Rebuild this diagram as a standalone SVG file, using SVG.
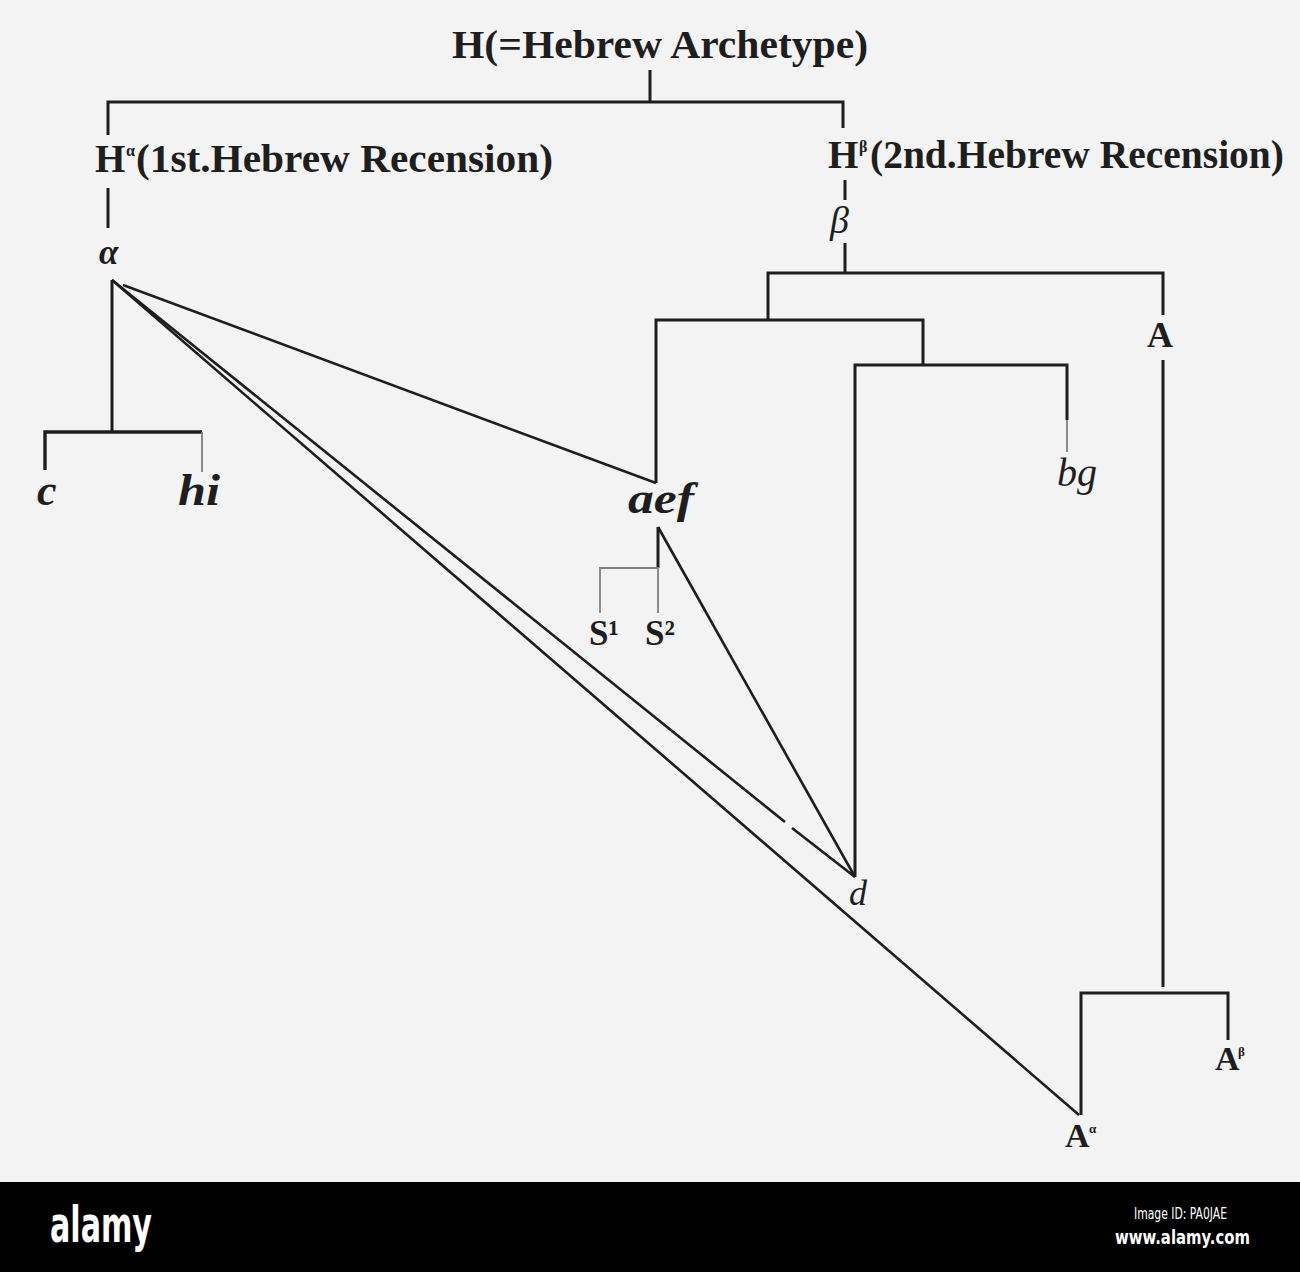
<svg xmlns="http://www.w3.org/2000/svg" width="1300" height="1272" viewBox="0 0 1300 1272">
<style>
.ln{stroke:#1e1e1e;stroke-width:3;fill:none;stroke-linecap:butt;stroke-linejoin:miter}
.dg{stroke:#1e1e1e;stroke-width:2.6;fill:none}
.fa{stroke:#808080;stroke-width:1.8;fill:none}
.t{font-family:"Liberation Serif",serif;fill:#1e1e1e}
.b{font-weight:bold}
.i{font-style:italic}
.w{font-family:"DejaVu Sans Condensed","DejaVu Sans",sans-serif;fill:#ffffff}
</style>
<rect x="0" y="0" width="1300" height="1272" fill="#f3f3f3"/>
<rect x="0" y="1182" width="1300" height="90" fill="#000000"/>

<g id="connectors">
  <path class="ln" d="M650 70 V102"/>
  <path class="ln" d="M108 135 V102 H843 V128"/>
  <path class="ln" d="M108 188 V228"/>
  <path class="ln" d="M112 280 V432"/>
  <path class="ln" d="M45 470 V432 H202" style="stroke-width:3.4"/>
  <path class="fa" d="M202 432 V472"/>
  <path class="dg" d="M123 285 L656 483"/>
  <path class="dg" d="M112 280 L785 822"/>
  <path class="dg" d="M792 828 L855 877"/>
  <path class="dg" d="M112 280 L1079 1115"/>
  <path class="ln" d="M845 180 V200"/>
  <path class="ln" d="M845 243 V273"/>
  <path class="ln" d="M768 320 V273 H1163 V315"/>
  <path class="ln" d="M1163 360 V987"/>
  <path class="ln" d="M1081 1115 V993 H1228 V1040"/>
  <path class="ln" d="M656 483 V320 H923 V365"/>
  <path class="ln" d="M855 877 V365 H1067 V420"/>
  <path class="fa" d="M1067 420 V452"/>
  <path class="ln" d="M658 527 V568"/>
  <path class="fa" d="M600 613 V568 H658 V613"/>
  <path class="dg" d="M658 527 L855 877"/>
</g>

<g id="node-H">
  <text class="t b" x="452" y="58" font-size="39" textLength="416" lengthAdjust="spacingAndGlyphs">H(=Hebrew Archetype)</text>
</g>
<g id="node-Ha">
  <text class="t b" x="95" y="172" font-size="39">H</text>
  <text class="t b" x="126" y="156" font-size="16">α</text>
  <text class="t b" x="136" y="172" font-size="39" textLength="417" lengthAdjust="spacingAndGlyphs">(1st.Hebrew Recension)</text>
</g>
<g id="node-Hb">
  <text class="t b" x="828" y="168" font-size="39">H</text>
  <text class="t b" x="859" y="152" font-size="16">β</text>
  <text class="t b" x="870" y="168" font-size="39" textLength="414" lengthAdjust="spacingAndGlyphs">(2nd.Hebrew Recension)</text>
</g>
<g id="node-alpha">
  <text class="t i b" x="99" y="264" font-size="35">α</text>
</g>
<g id="node-c">
  <text class="t i b" x="37" y="505" font-size="44">c</text>
</g>
<g id="node-hi">
  <text class="t i b" x="178" y="505" font-size="44" textLength="42" lengthAdjust="spacingAndGlyphs">hi</text>
</g>
<g id="node-aef">
  <text class="t i b" x="628" y="513" font-size="44" textLength="66" lengthAdjust="spacingAndGlyphs">aef</text>
</g>
<g id="node-S1">
  <text class="t b" x="589" y="645" font-size="35">S¹</text>
</g>
<g id="node-S2">
  <text class="t b" x="645" y="645" font-size="35">S²</text>
</g>
<g id="node-beta">
  <text class="t i" x="830" y="233" font-size="38">β</text>
</g>
<g id="node-A">
  <text class="t b" x="1147" y="347" font-size="36">A</text>
</g>
<g id="node-bg">
  <text class="t i" x="1057" y="486" font-size="40">bg</text>
</g>
<g id="node-d">
  <text class="t i" x="849" y="905" font-size="36">d</text>
</g>
<g id="node-Aalpha">
  <text class="t b" x="1065" y="1147" font-size="34">A</text>
  <text class="t b" x="1089" y="1133" font-size="13">α</text>
</g>
<g id="node-Abeta">
  <text class="t b" x="1215" y="1070" font-size="34">A</text>
  <text class="t b" x="1238" y="1056" font-size="13">β</text>
</g>

<g id="watermark">
  <text class="w" x="50" y="1242" font-size="50" font-weight="bold" textLength="102" lengthAdjust="spacingAndGlyphs">alamy</text>
  <text class="w" x="1134" y="1219" font-size="16" textLength="93" lengthAdjust="spacingAndGlyphs">Image ID: PA0JAE</text>
  <text class="w" x="1115" y="1244" font-size="20" font-weight="bold" textLength="135" lengthAdjust="spacingAndGlyphs">www.alamy.com</text>
</g>
</svg>
